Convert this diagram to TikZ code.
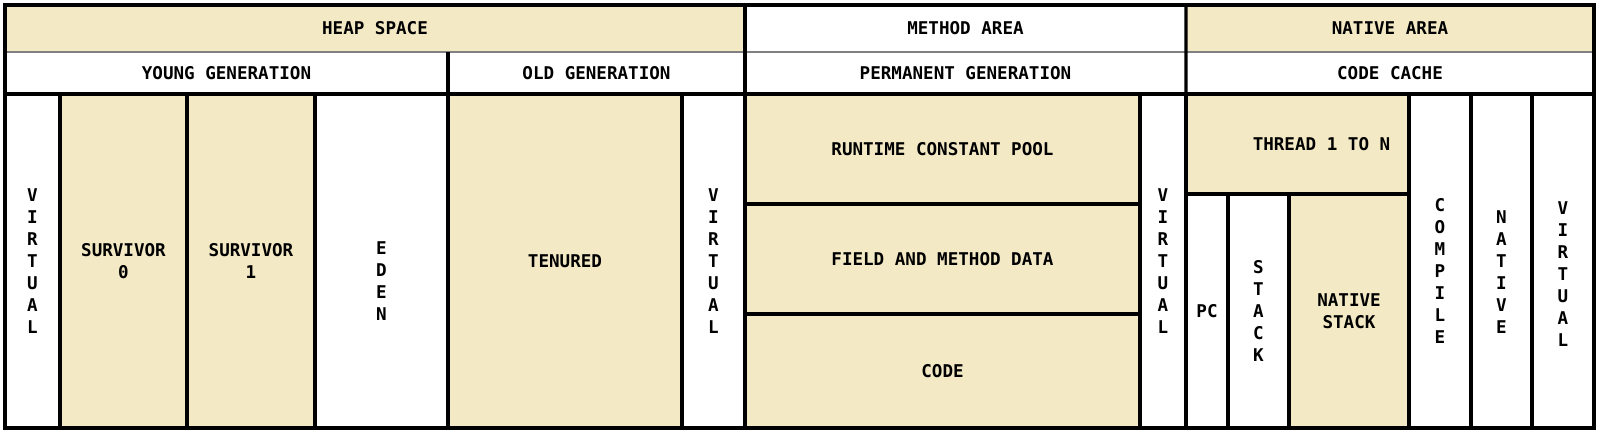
\documentclass[tikz,border=0pt]{standalone}
\usepackage{fontspec}
\setmainfont{DejaVu Sans Mono}
\definecolor{heaptan}{RGB}{243,233,197}
\begin{document}
\begin{tikzpicture}[x=0.02cm,y=-0.02cm,
	every node/.style={font=\bfseries\fontsize{10}{12.5}\selectfont,align=center,inner sep=0,outer sep=0},
	region/.style n args={4}{at={({(#1+#3)/2},{(#2+#4)/2})},
		minimum width={(#3-#1)*0.02cm},minimum height={(#4-#2)*0.02cm}},
	cell/.style={draw=black,line width=1.9pt},
	tan/.style={fill=heaptan},
	sep/.style={line width=1.9pt},
	seam/.style={draw=black!50,line width=1pt}]
\useasboundingbox (0,0) rectangle (1600,434);
% header rows
\node[region={5}{5}{745}{52},tan] (heap) {HEAP SPACE};
\node[region={745}{5}{1186}{52}] (method) {METHOD AREA};
\node[region={1186}{5}{1594}{52},tan] (native) {NATIVE AREA};
\node[region={5}{52}{448}{94}] (young) {YOUNG GENERATION};
\node[region={448}{52}{745}{94}] (old) {OLD GENERATION};
\node[region={745}{52}{1186}{94}] (perm) {PERMANENT GENERATION};
\node[region={1186}{52}{1594}{94}] (cache) {CODE CACHE};
\draw[seam] (heap.south west) -- (native.south east);
\draw[seam] (young.south west) -- (cache.south east);
\draw[sep] (heap.north east) -- (perm.south west);
\draw[sep] (method.north east) -- (cache.south west);
\draw[sep] (young.north east) -- (young.south east);
% heap
\node[cell,region={5}{94}{60}{428}] (virt1) {V\\I\\R\\T\\U\\A\\L};
\node[cell,tan,region={60}{94}{187}{428}] (surv0) {SURVIVOR\\0};
\node[cell,tan,region={187}{94}{315}{428}] (surv1) {SURVIVOR\\1};
\node[cell,region={315}{94}{448}{428},label={[yshift=-0.4cm]center:E\\D\\E\\N}] (eden) {};
\node[cell,tan,region={448}{94}{682}{428}] (tenured) {TENURED};
\node[cell,region={682}{94}{745}{428}] (virt2) {V\\I\\R\\T\\U\\A\\L};
% method area
\node[cell,tan,region={745}{94}{1140}{204}] (pool) {RUNTIME CONSTANT POOL};
\node[cell,tan,region={745}{204}{1140}{314}] (fields) {FIELD AND METHOD DATA};
\node[cell,tan,region={745}{314}{1140}{428}] (code) {CODE};
\node[cell,region={1140}{94}{1186}{428}] (virt3) {V\\I\\R\\T\\U\\A\\L};
% native area
\node[cell,tan,region={1186}{94}{1409}{194},label={[xshift=0.48cm]center:THREAD 1 TO N}] (thread) {};
\node[cell,region={1186}{194}{1228}{428}] (pc) {PC};
\node[cell,region={1228}{194}{1289}{428}] (stack) {S\\T\\A\\C\\K};
\node[cell,tan,region={1289}{194}{1409}{428}] (nstack) {NATIVE\\STACK};
\node[cell,region={1409}{94}{1471}{428},label={[yshift=-0.2cm]center:C\\O\\M\\P\\I\\L\\E}] (compile) {};
\node[cell,region={1471}{94}{1532}{428},label={[yshift=-0.22cm]center:N\\A\\T\\I\\V\\E}] (nat) {};
\node[cell,region={1532}{94}{1594}{428},label={[yshift=-0.26cm]center:V\\I\\R\\T\\U\\A\\L}] (virt4) {};
\draw[sep] (heap.north west) rectangle (virt4.south east);
\end{tikzpicture}
\end{document}
